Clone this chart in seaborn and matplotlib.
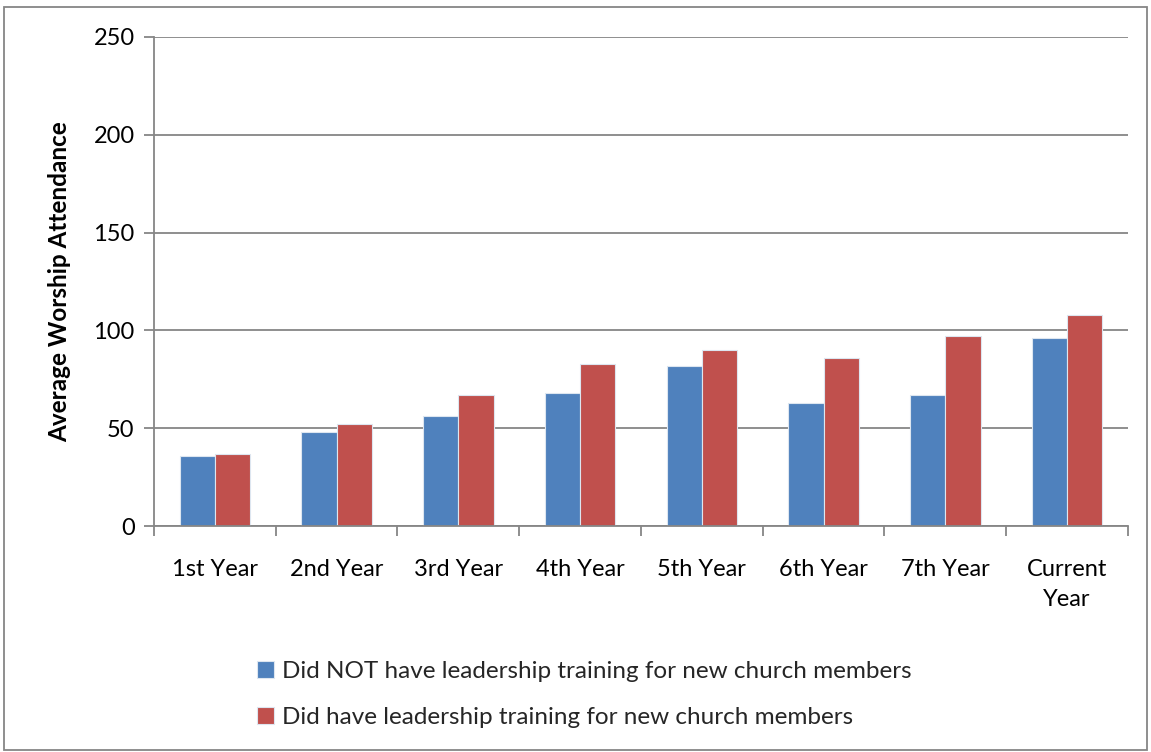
import matplotlib
matplotlib.use('Agg')
import matplotlib.pyplot as plt
import pandas as pd
import seaborn as sns
from matplotlib.patches import Rectangle

# Chart data
years = ['1st Year', '2nd Year', '3rd Year', '4th Year', '5th Year',
         '6th Year', '7th Year', 'Current\nYear']
no_training = [36, 48, 56, 68, 82, 63, 67, 96]
with_training = [37, 52, 67, 83, 90, 86, 97, 108]
series_names = ['Did NOT have leadership training for new church members',
                'Did have leadership training for new church members']

BLUE = '#4F81BD'
RED = '#C0504D'
GRID = '#868686'
FS = 17

df = pd.DataFrame({
    'Year': years * 2,
    'Attendance': no_training + with_training,
    'Group': [series_names[0]] * len(years) + [series_names[1]] * len(years),
})

sns.set_theme(style='white')
plt.rcParams['font.family'] = ['Lato', 'DejaVu Sans']

fig = plt.figure(figsize=(11.51, 7.52), dpi=100)
ax = fig.add_axes([0.1338, 0.3005, 0.8462, 0.6503])

sns.barplot(data=df, x='Year', y='Attendance', hue='Group',
            palette=[BLUE, RED], saturation=1, width=0.58, dodge=True,
            edgecolor='#dde6f0', linewidth=0.8, ax=ax, legend=True)

ax.set_ylim(0, 250)
ax.set_xlim(-0.5, len(years) - 0.5)
ax.set_yticks([0, 50, 100, 150, 200, 250])
ax.yaxis.grid(True, color=GRID, linewidth=1.3)
ax.set_axisbelow(True)

for s in ['top', 'right']:
    ax.spines[s].set_visible(False)
for s in ['left', 'bottom']:
    ax.spines[s].set_color(GRID)
    ax.spines[s].set_linewidth(1.3)

# category boundary ticks on x axis
ax.set_xticks(range(len(years)))
ax.set_xticklabels(years, fontsize=FS, color='black', linespacing=1.5)
ax.set_xticks([i - 0.5 for i in range(len(years) + 1)], minor=True)
ax.tick_params(axis='x', which='major', length=0, pad=24)
ax.tick_params(axis='x', which='minor', length=7, width=1.3, color=GRID, bottom=True)
ax.tick_params(axis='y', length=7, width=1.3, color=GRID, left=True,
               labelsize=FS, labelcolor='black', pad=7)

ax.set_xlabel('')
ax.set_ylabel('Average Worship Attendance', fontsize=17.5, fontweight='bold',
              color='black', labelpad=16)

handles, labels = ax.get_legend_handles_labels()
ax.get_legend().remove()
fig.legend(handles, labels, loc='upper left', bbox_to_anchor=(0.2235, 0.1215),
           frameon=False, fontsize=17.5, handlelength=0.7, handleheight=0.7,
           handletextpad=0.3, labelspacing=1.05, borderaxespad=0, borderpad=0)

# outer chart border
fig.patches.append(Rectangle((0.0035, 0.002), 0.993, 0.989, transform=fig.transFigure,
                             fill=False, edgecolor=GRID, linewidth=1.3))

fig.savefig('out.png', dpi=100)
